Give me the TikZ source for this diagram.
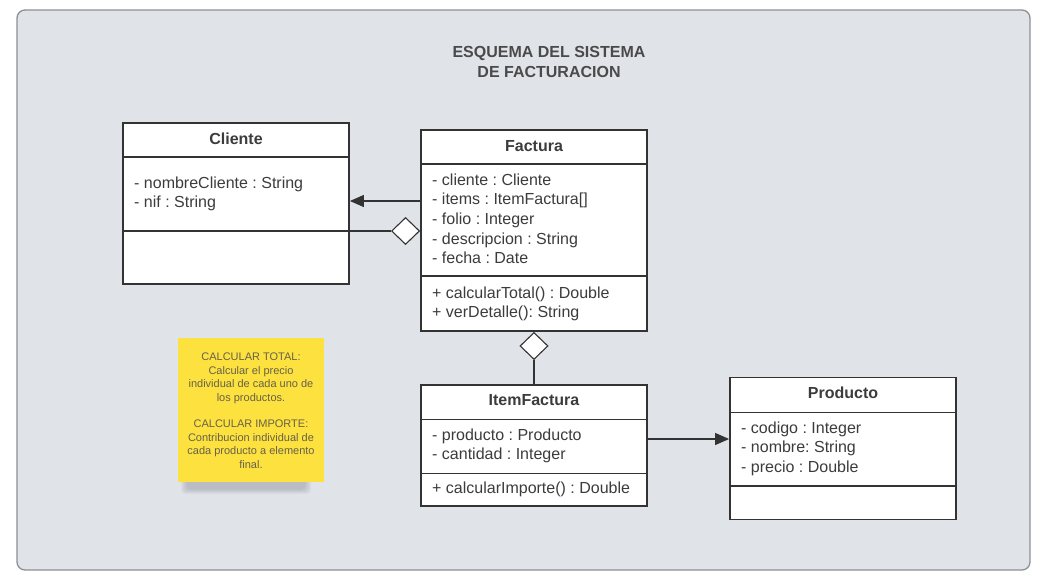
\documentclass[tikz,border=0pt]{standalone}
\usepackage{fontspec}
\setmainfont{Liberation Sans}
\usetikzlibrary{shapes.geometric,arrows.meta}
\definecolor{bgfill}{HTML}{E0E3E8}
\definecolor{bgline}{HTML}{8E9094}
\definecolor{boxline}{HTML}{333333}
\definecolor{txt}{HTML}{3C3C3C}
\definecolor{titletxt}{HTML}{4A4A4A}
\definecolor{notey}{HTML}{FDE13F}
\definecolor{notetxt}{HTML}{66624A}
\definecolor{shadowc}{HTML}{8A8D95}
\frenchspacing
\begin{document}
\begin{tikzpicture}[x=1pt,y=-1pt,
  classbox/.style={draw=boxline, line width=1.8pt, fill=white, inner sep=0pt, minimum width=226pt},
  divider/.style={draw=boxline, line width=1.8pt},
  cname/.style={font=\fontsize{16}{19}\selectfont\bfseries\frenchspacing, text=txt, anchor=base, inner sep=0pt},
  attr/.style={font=\fontsize{16}{19}\selectfont\frenchspacing, text=txt, anchor=base west, inner sep=0pt},
  ttl/.style={font=\fontsize{16}{20}\selectfont\bfseries, text=titletxt, anchor=base, inner sep=0pt},
  conn/.style={draw=boxline, line width=1.1pt},
  arr/.style={conn, -{Triangle[length=14pt,width=12pt]}},
  agg/.style={diamond, draw=boxline, line width=1.1pt, fill=white, inner sep=0pt, minimum width=28pt, minimum height=27pt}
]
\useasboundingbox (0,0) rectangle (1045,579);
\fill[white] (0,0) rectangle (1045,579);
\draw[draw=bgline, fill=bgfill, rounded corners=8pt, line width=1.3pt] (17,10) rectangle (1030,570);

% title
\node[ttl] (title1) at (549,57.5) {ESQUEMA DEL SISTEMA};
\node[ttl] (title2) at (549,77.5) {DE FACTURACION};

% sticky note shadow
\foreach \o in {0,1,...,6}{
  \fill[shadowc, opacity=0.07, rounded corners=4pt] (181+\o,466+\o*0.6) rectangle (311-\o,494-\o*0.8);
}
\node[fill=notey, inner sep=0pt, minimum width=146pt, minimum height=144pt] (note) at (251,410) {};
\node[align=center, font=\fontsize{11}{13.4}\selectfont\frenchspacing, text=notetxt, inner sep=0pt] (notetext) at ([yshift=-0.8pt]note.center)
  {CALCULAR TOTAL:\\Calcular el precio\\individual de cada uno de\\los productos.\\[13.4pt]CALCULAR IMPORTE:\\Contribucion individual de\\cada producto a elemento\\final.};

% Cliente
\node[classbox, minimum height=161pt] (cliente) at (236,203.5) {};
\draw[divider] (cliente.west |- 0,157) -- (cliente.east |- 0,157);
\draw[divider] (cliente.west |- 0,231) -- (cliente.east |- 0,231);
\node[cname] (clienteN) at (236,144.5) {Cliente};
\node[attr] (c1) at (134,188.5) {- nombreCliente : String};
\node[attr] (c2) at (134,207.5) {- nif : String};

% Factura
\node[classbox, minimum height=201pt] (factura) at (534,230.5) {};
\draw[divider] (factura.west |- 0,164) -- (factura.east |- 0,164);
\draw[divider] (factura.west |- 0,276) -- (factura.east |- 0,276);
\node[cname] (facturaN) at (534,151.5) {Factura};
\node[attr] (f1) at (432,185.5) {- cliente : Cliente};
\node[attr] (f2) at (432,204.5) {- items : ItemFactura[]};
\node[attr] (f3) at (432,224.5) {- folio : Integer};
\node[attr] (f4) at (432,244.5) {- descripcion : String};
\node[attr] (f5) at (432,263.5) {- fecha : Date};
\node[attr] (f6) at (432,298.5) {+ calcularTotal() : Double};
\node[attr] (f7) at (432,317.5) {+ verDetalle(): String};

% ItemFactura
\node[classbox, minimum height=121pt] (itemf) at (534,445.5) {};
\draw[divider] (itemf.west |- 0,419.5) -- (itemf.east |- 0,419.5);
\draw[divider] (itemf.west |- 0,473.5) -- (itemf.east |- 0,473.5);
\node[cname] (itemfN) at (534,405.5) {ItemFactura};
\node[attr] (i1) at (432,440.5) {- producto : Producto};
\node[attr] (i2) at (432,459.5) {- cantidad : Integer};
\node[attr] (i3) at (432,493.5) {+ calcularImporte() : Double};

% Producto
\node[classbox, minimum height=142pt] (producto) at (843,448.5) {};
\draw[divider] (producto.west |- 0,412.5) -- (producto.east |- 0,412.5);
\draw[divider] (producto.west |- 0,486) -- (producto.east |- 0,486);
\node[cname] (productoN) at (843,398.5) {Producto};
\node[attr] (p1) at (741,433.5) {- codigo : Integer};
\node[attr] (p2) at (741,452.5) {- nombre: String};
\node[attr] (p3) at (741,472.5) {- precio : Double};

% connectors
\draw[arr] (factura.west |- 0,201) -- (cliente.east |- 0,201);
\node[agg, anchor=east] (d1) at (factura.west |- 0,231) {};
\draw[conn] (cliente.east |- 0,231) -- (d1.west);
\node[agg, anchor=north] (d2) at (factura.south) {};
\draw[conn] (d2.south) -- (itemf.north);
\draw[arr] (itemf.east |- 0,439) -- (producto.west |- 0,439);
\end{tikzpicture}
\end{document}
